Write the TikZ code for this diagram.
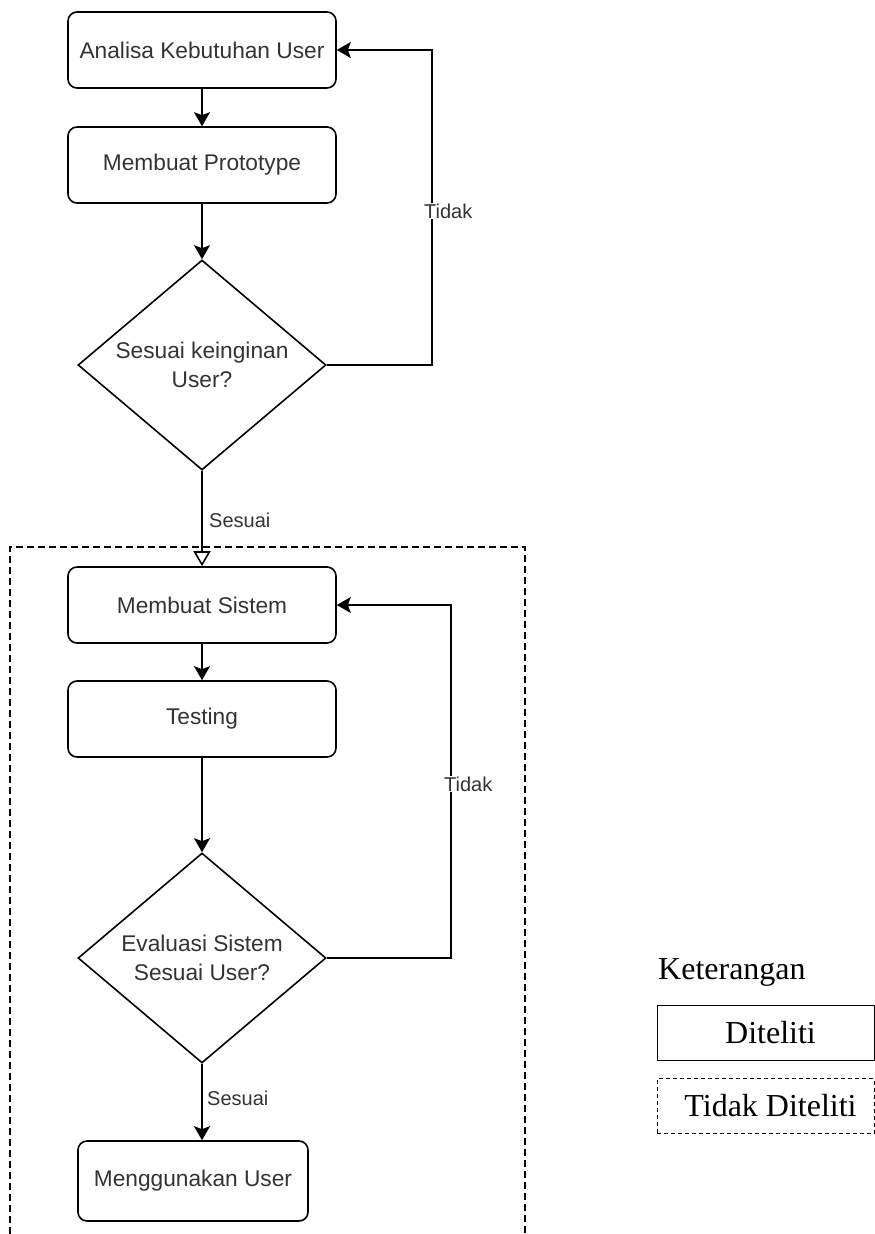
\documentclass[tikz,border=0pt]{standalone}
\usepackage{fontspec}
\setmainfont{Liberation Serif}
\newfontfamily\arialfont{Liberation Sans}
\usetikzlibrary{arrows.meta,shapes.geometric}
\definecolor{txt}{RGB}{51,51,51}
\begin{document}
\begin{tikzpicture}[x=1pt,y=-1pt,
  procbox/.style={draw, line width=1.6pt, rounded corners=9pt, minimum width=268pt, minimum height=76pt, inner sep=0pt, font=\arialfont\fontsize{22.7}{29}\selectfont, text=txt, align=center},
  decbox/.style={draw, diamond, aspect=1.18, line width=1.6pt, minimum width=248pt, minimum height=210pt, inner sep=0pt, font=\arialfont\fontsize{22.7}{29}\selectfont, text=txt, align=center},
  lbl/.style={font=\arialfont\fontsize{20}{24}\selectfont, text=txt, inner sep=1pt},
  arr/.style={line width=1.6pt, -{Stealth[length=14pt,width=16pt,inset=3pt]}},
  openarr/.style={line width=1.6pt, -{Triangle[length=15pt,width=17pt,fill=white]}},
  legtext/.style={font=\fontsize{32}{36}\selectfont, text=black},
  legbox/.style={draw, line width=1pt, minimum width=217pt, minimum height=55pt, inner sep=0pt, legtext}
]
\useasboundingbox (0,0) rectangle (875,1234);

% process nodes
\node[procbox] (a) at (202,50) {Analisa Kebutuhan User};
\node[procbox] (b) at (202,165) {Membuat Prototype};
\node[decbox] (d1) at (202,365) {Sesuai keinginan\\User?};
\node[procbox] (ms) at (202,605) {Membuat Sistem};
\node[procbox] (ts) at (202,719) {Testing};
\node[decbox] (d2) at (202,958) {Evaluasi Sistem\\Sesuai User?};
\node[procbox, minimum width=230pt, minimum height=80pt] (mu) at (193,1181) {Menggunakan User};

% dashed region (open at the bottom, beyond the page)
\coordinate (r1) at (10,1234);
\coordinate (r2) at (10,547);
\coordinate (r3) at (525,547);
\coordinate (r4) at (525,1234);
\draw[line width=1.2pt, dash pattern=on 7pt off 4pt] (r1) -- (r2) -- (r3) -- (r4);

% connectors
\draw[arr] (a) -- (b);
\draw[arr] (b) -- (d1);
\coordinate (l1) at (432,365);
\draw[arr] (d1.east) -- (l1) |- (a.east);
\draw[openarr] (d1.south) -- (ms.north);
\draw[arr] (ms) -- (ts);
\draw[arr] (ts) -- (d2);
\coordinate (l2) at (451,958);
\draw[arr] (d2.east) -- (l2) |- (ms.east);
\draw[arr] (d2.south) -- (mu.north -| d2.south);

% labels
\node[lbl, fill=white, anchor=west] (t1) at (423,211) {Tidak};
\node[lbl, anchor=west] (s1) at (208,520) {Sesuai};
\node[lbl, fill=white, anchor=west] (t2) at (443,784) {Tidak};
\node[lbl, anchor=west] (s2) at (206,1098) {Sesuai};

% legend
\node[legtext, anchor=base west, inner sep=0pt] (ket) at (658,979) {Keterangan};
\node[legbox] (dit) at (765.5,1032.5) {\hspace*{10pt}Diteliti};
\node[legbox, dash pattern=on 4pt off 3pt] (tdit) at (765.5,1106) {\hspace*{10pt}Tidak Diteliti};
\end{tikzpicture}
\end{document}
